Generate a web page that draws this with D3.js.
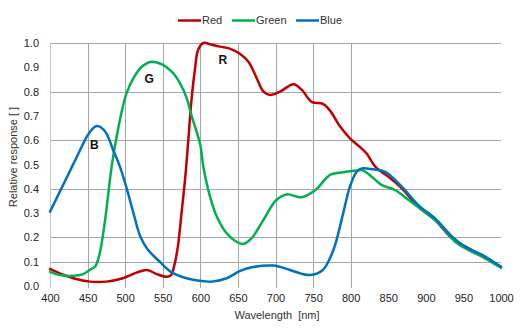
<!DOCTYPE html>
<html>
<head>
<meta charset="utf-8">
<script src="https://cdn.jsdelivr.net/npm/d3@7"></script>
<style>
  html, body { margin: 0; padding: 0; background: #fff; }
  svg { display: block; font-family: "Liberation Sans", Arial, sans-serif; }
</style>
</head>
<body>
<div id="chart"></div>
<script>
// ---- data ----
const seriesNames = ["Red", "Green", "Blue"];
const seriesColors = ["#C00000", "#00B050", "#0070C0"];

const redNm  = [400,413,431,453,475,497,515,529,542,555,561,565,570,575,580,584,588,593,597,604,613,626,639,653,664,675,684,693,706,724,735,748,763,772,786,799,812,821,833,850,868,890,912,935,957,979,1000];
const redVal = [0.07,0.052,0.032,0.018,0.018,0.032,0.055,0.066,0.049,0.038,0.045,0.08,0.16,0.30,0.45,0.60,0.758,0.896,0.971,1.0,0.995,0.985,0.977,0.955,0.923,0.855,0.80,0.786,0.80,0.83,0.807,0.758,0.749,0.724,0.656,0.608,0.573,0.546,0.49,0.45,0.402,0.326,0.272,0.196,0.155,0.115,0.078];

const greenNm  = [400,413,431,444,453,460,465,470,475,482,489,497,502,511,522,535,549,562,573,582,588,595,600,604,613,622,635,648,657,668,684,701,715,735,753,773,790,805,815,828,841,859,877,895,917,939,957,979,1000];
const greenVal = [0.058,0.045,0.042,0.049,0.066,0.08,0.12,0.2,0.313,0.491,0.62,0.74,0.795,0.855,0.902,0.923,0.912,0.882,0.834,0.772,0.704,0.635,0.58,0.491,0.367,0.285,0.217,0.182,0.173,0.196,0.272,0.354,0.377,0.365,0.395,0.458,0.468,0.474,0.477,0.45,0.416,0.395,0.354,0.313,0.258,0.182,0.148,0.114,0.075];

const blueNm  = [400,411,424,438,449,456,462,468,475,484,493,502,511,520,530,546,560,575,590,605,615,635,653,670,697,719,735,746,763,777,790,799,808,815,830,846,868,890,912,935,952,975,1000];
const blueVal = [0.306,0.375,0.457,0.546,0.615,0.645,0.658,0.652,0.628,0.56,0.491,0.402,0.30,0.205,0.15,0.10,0.06,0.038,0.026,0.02,0.018,0.032,0.062,0.078,0.084,0.066,0.05,0.045,0.066,0.148,0.299,0.409,0.47,0.484,0.48,0.47,0.409,0.333,0.279,0.203,0.162,0.128,0.079];

const xTicks = [400,450,500,550,600,650,700,750,800,850,900,950,1000];
const xGrid  = [450,500,550,600,650,700,750,800];
const yTicks = [0,0.1,0.2,0.3,0.4,0.5,0.6,0.7,0.8,0.9,1.0];
const yGrid  = [0.1,0.2,0.4,0.6,0.8,1.0];

const peakLabels = ["B", "G", "R"];
const peakNm     = [459, 532, 630];
const peakVal    = [0.577, 0.847, 0.926];

const xTitle = "Wavelength  [nm]";
const yTitle = "Relative response [ ]";

// ---- drawing ----
const W = 525, H = 330;
const svg = d3.select("#chart").append("svg").attr("width", W).attr("height", H);

const x = d3.scaleLinear().domain([400, 1000]).range([50, 501]);
const y = d3.scaleLinear().domain([0, 1]).range([286, 43]);

const grid = svg.append("g");
grid.selectAll("line.h").data(yGrid).enter().append("line")
  .attr("x1", x(400)).attr("x2", x(1000))
  .attr("y1", d => Math.round(y(d)) + 0.5).attr("y2", d => Math.round(y(d)) + 0.5)
  .attr("stroke", "#a6a6a6").attr("stroke-width", 1);
grid.selectAll("line.v").data(xGrid).enter().append("line")
  .attr("x1", d => Math.round(x(d)) + 0.5).attr("x2", d => Math.round(x(d)) + 0.5)
  .attr("y1", y(1)).attr("y2", y(0) + 2)
  .attr("stroke", "#a6a6a6").attr("stroke-width", 1);
// left axis line
svg.append("line")
  .attr("x1", Math.round(x(400)) + 0.5).attr("x2", Math.round(x(400)) + 0.5)
  .attr("y1", y(1)).attr("y2", y(0) + 2)
  .attr("stroke", "#c8c8c8").attr("stroke-width", 1);

// y tick labels
const yAxis = d3.axisLeft(y).tickValues(yTicks).tickFormat(d3.format(".1f")).tickSize(0).tickPadding(11);
const yg = svg.append("g").attr("transform", `translate(${x(400)},0)`).call(yAxis);
yg.select(".domain").remove();
yg.selectAll("text").attr("font-size", 11).attr("fill", "#222")
  .attr("font-family", "Liberation Sans, Arial, sans-serif");

// x tick labels
const xAxis = d3.axisBottom(x).tickValues(xTicks).tickFormat(d3.format("d")).tickSize(0).tickPadding(8);
const xg = svg.append("g").attr("transform", `translate(0,${y(0)})`).call(xAxis);
xg.select(".domain").remove();
xg.selectAll("text").attr("font-size", 11).attr("fill", "#222")
  .attr("font-family", "Liberation Sans, Arial, sans-serif");

// axis titles
svg.append("text").attr("x", 277).attr("y", 319).attr("text-anchor", "middle")
  .attr("font-size", 11).attr("fill", "#333").style("white-space", "pre").text(xTitle);
svg.append("text").attr("transform", `translate(17,${157}) rotate(-90)`)
  .attr("text-anchor", "middle").attr("font-size", 11).attr("fill", "#333").text(yTitle);

// series
const seriesData = [
  d3.zip(redNm, redVal),
  d3.zip(greenNm, greenVal),
  d3.zip(blueNm, blueVal)
];
const line = d3.line().x(d => x(d[0])).y(d => y(d[1])).curve(d3.curveCatmullRom.alpha(0.5));
svg.append("g").selectAll("path").data(seriesData).enter().append("path")
  .attr("d", line).attr("fill", "none")
  .attr("stroke", (d, i) => seriesColors[i]).attr("stroke-width", 2.5)
  .attr("stroke-linejoin", "round").attr("stroke-linecap", "round");

// peak labels
svg.append("g").selectAll("text").data(peakLabels).enter().append("text")
  .attr("x", (d, i) => x(peakNm[i])).attr("y", (d, i) => y(peakVal[i]))
  .attr("text-anchor", "middle").attr("dominant-baseline", "middle")
  .attr("font-size", 12).attr("font-weight", "bold").attr("fill", "#111")
  .attr("font-family", "Liberation Sans, Arial, sans-serif")
  .text(d => d);

// legend
const legX = [178, 232, 296];
const legend = svg.append("g");
seriesNames.forEach((name, i) => {
  legend.append("line").attr("x1", legX[i]).attr("x2", legX[i] + 23)
    .attr("y1", 20.5).attr("y2", 20.5)
    .attr("stroke", seriesColors[i]).attr("stroke-width", 2.5);
  legend.append("text").attr("x", legX[i] + 24).attr("y", 21)
    .attr("dominant-baseline", "middle").attr("font-size", 11).attr("fill", "#333")
    .text(name);
});
</script>
</body>
</html>
